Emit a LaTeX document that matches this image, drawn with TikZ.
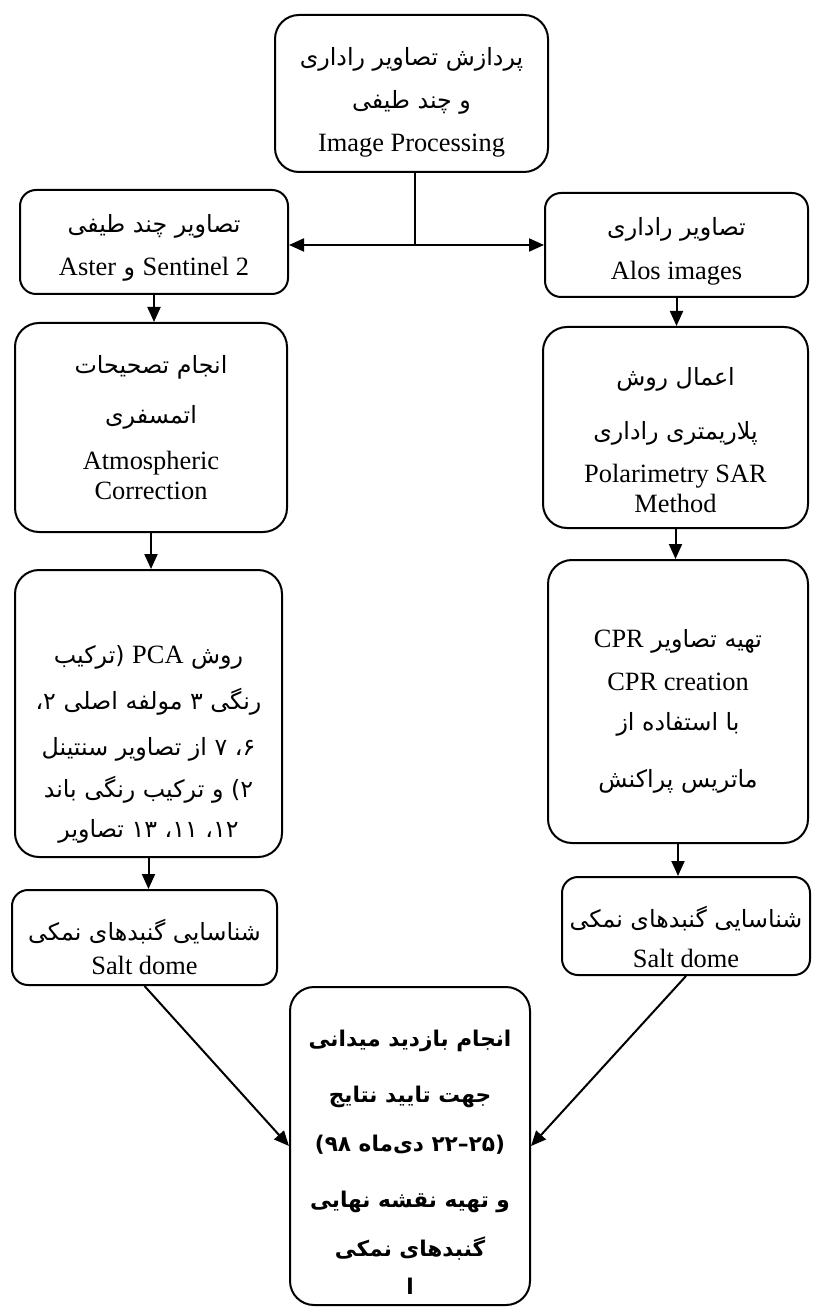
\documentclass[tikz,border=0pt]{standalone}
\usepackage{fontspec}
\setmainfont{Liberation Serif}
\newfontfamily\farsi[Script=Arabic,Scale=0.9]{DejaVu Sans}
\newfontfamily\farsibold[Script=Arabic,Scale=0.82]{DejaVu Sans Bold}
\TeXXeTstate=1
\newcommand{\pers}[1]{{\farsi\beginR #1\endR}}
\newcommand{\persb}[1]{{\farsibold\beginR #1\endR}}
\newcommand{\lat}[1]{{\rmfamily\beginL #1\endL}}
\newcommand{\topgap}[1]{\rule{0pt}{#1}}
\usetikzlibrary{arrows.meta}

\tikzset{
  box/.style={draw, line width=1pt, rounded corners=12pt, align=center,
    font=\fontsize{13.2}{15}\selectfont},
  smallbox/.style={box, rounded corners=8pt},
  arr/.style={-{Triangle[length=7.5pt,width=6.5pt]}, line width=1pt},
}

\begin{document}
\begin{tikzpicture}[x=0.5pt,y=-0.5pt]
\useasboundingbox (0,0) rectangle (813,1309);

% top
\node[box, minimum width=136.5pt, minimum height=78.5pt] (proc) at (411.5,93.5)
  {\topgap{18pt}\pers{پردازش تصاویر راداری}\\[6.5pt]\pers{و چند طیفی}\\[6.5pt]Image Processing};

% left column: multispectral
\node[smallbox, minimum width=134pt, minimum height=52pt] (optic) at (154,242)
  {\topgap{15pt}\pers{تصاویر چند طیفی}\\[6.5pt]\pers{\lat{Sentinel 2} و \lat{Aster}}};
\node[box, minimum width=136pt, minimum height=104.5pt] (atmcor) at (151,427.5)
  {\pers{انجام تصحیحات}\\[10pt]\pers{اتمسفری}\\[8pt]Atmospheric\\Correction};
\node[box, minimum width=133.5pt, minimum height=143.5pt, inner ysep=0pt] (pca) at (148.5,713.5)
  {\topgap{40pt}\pers{روش \lat{PCA} (ترکیب}\\[8pt]\pers{رنگی ۳ مولفه اصلی ۲،}\\[8pt]\pers{۶، ۷ از تصاویر سنتینل}\\[6pt]\pers{۲) و ترکیب رنگی باند}\\[5pt]\pers{۱۲، ۱۱، ۱۳ تصاویر}};
\node[smallbox, minimum width=132.5pt, minimum height=47.5pt, inner ysep=0pt] (saltopt) at (144.5,937.5)
  {\topgap{20pt}\pers{شناسایی گنبدهای نمکی}\\[2pt]Salt dome};

% right column: radar
\node[smallbox, minimum width=131.5pt, minimum height=52pt] (radar) at (676.5,245)
  {\topgap{15pt}\pers{تصاویر راداری}\\[7pt]Alos images};
\node[box, minimum width=132.5pt, minimum height=100.5pt] (polsar) at (675.5,427.5)
  {\topgap{22pt}\pers{اعمال روش}\\[12pt]\pers{پلاریمتری راداری}\\[6.5pt]Polarimetry SAR\\Method};
\node[box, minimum width=130pt, minimum height=141.5pt] (cpr) at (678,701.5)
  {\topgap{19pt}\pers{تهیه تصاویر \lat{CPR}}\\[6.5pt]CPR creation\\[5pt]\pers{با استفاده از}\\[13.5pt]\pers{ماتریس پراکنش}};
\node[smallbox, minimum width=124pt, minimum height=49pt, inner ysep=0pt] (saltrad) at (686,926)
  {\topgap{22pt}\pers{شناسایی گنبدهای نمکی}\\[5pt]Salt dome};

% bottom
\node[box, minimum width=120pt, minimum height=159pt, inner ysep=0pt] (field) at (410,1146)
  {\topgap{24pt}\persb{انجام بازدید میدانی}\\[13pt]\persb{جهت تایید نتایج}\\[9.5pt]\persb{(۲۵–۲۲ دی‌ماه ۹۸)}\\[13pt]\persb{و تهیه نقشه نهایی}\\[9.5pt]\persb{گنبدهای نمکی}\\[4pt]\persb{ا}};

\coordinate (split) at (415,245);
\draw[line width=1pt] (split |- proc.south) -- (split);
\draw[arr] (split) -- (optic.east |- split);
\draw[arr] (split) -- (radar.west |- split);

\draw[arr] (optic.south) -- (optic.south |- atmcor.north);
\draw[arr] (atmcor.south) -- (atmcor.south |- pca.north);
\draw[arr] (pca.south) -- (pca.south |- saltopt.north);
\draw[arr] (radar.south) -- (radar.south |- polsar.north);
\draw[arr] (polsar.south) -- (polsar.south |- cpr.north);
\draw[arr] (cpr.south) -- (cpr.south |- saltrad.north);
\draw[arr] (saltopt.south) -- (field.west);
\draw[arr] (saltrad.south) -- (field.east);
\end{tikzpicture}
\end{document}
